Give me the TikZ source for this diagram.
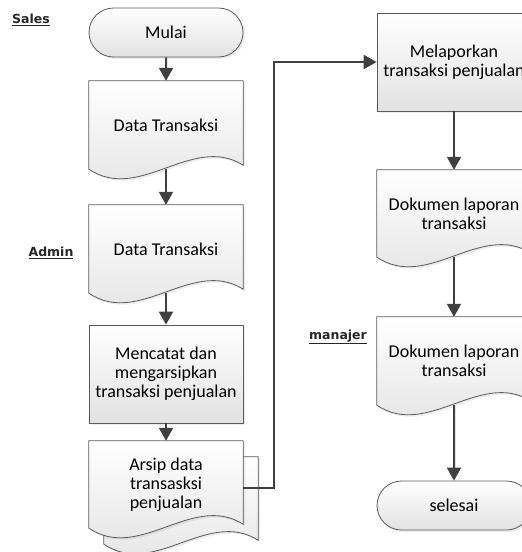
\documentclass[tikz,border=0pt]{standalone}
\usepackage{fontspec}
\setmainfont{Carlito}
\newfontfamily\lanefont{DejaVu Sans}
\usetikzlibrary{shapes.misc,arrows.meta,shadows,backgrounds}
\definecolor{linegray}{HTML}{5A5A5A}
\definecolor{flowgray}{HTML}{404040}
\definecolor{boxgray}{HTML}{E2E2E2}
\newcommand\docoutline[1]{%
  \path[docfill] (#1.south west) -- (#1.north west) -- (#1.north east)
    -- ([yshift=4pt]#1.south east) .. controls +(-51,-32) and +(51,34) .. (#1.south west) -- cycle;}

\begin{document}
\begin{tikzpicture}[x=1pt, y=-1pt,
  every node/.style={font=\fontsize{18}{19}\selectfont, align=center},
  shape base/.style={draw=linegray, line width=0.8pt, top color=white, bottom color=boxgray,
    drop shadow={opacity=0.15, shadow xshift=2pt, shadow yshift=-2pt}},
  terminal/.style={shape base, rounded rectangle, minimum width=154pt, minimum height=49pt, inner sep=0pt},
  process/.style={shape base, rectangle, minimum width=154pt, minimum height=98pt, inner sep=0pt},
  doc/.style={rectangle, minimum width=154pt, inner sep=0pt},
  docfill/.style={shape base},
  lane/.style={font=\lanefont\bfseries\fontsize{12.5}{14}\selectfont, text=black!85},
  flow/.style={draw=flowgray, line width=2pt, -{Triangle[length=13pt,width=14pt]}}]
  \useasboundingbox (0,0) rectangle (522,552);

  \node[lane] (sales) at (31,20) {\underline{Sales}};
  \node[lane] (admin) at (51,253) {\underline{Admin}};
  \node[lane] (manajer) at (338,337) {\underline{manajer}};

  \node[terminal] (mulai) at (166,32.5) {Mulai};
  \node[doc, minimum height=88pt] (data1) at (166,125) {Data Transaksi};
  \node[doc, minimum height=88pt] (data2) at (166,249) {Data Transaksi};
  \node[process] (catat) at (166,374) {Mencatat dan\\ mengarsipkan\\ transaksi penjualan};
  \node[doc, minimum height=87pt] (arsipb) at (181,500.5) {};
  \node[doc, minimum height=87pt] (arsip) at (166,484.5) {Arsip data\\ transasksi\\ penjualan};

  \node[process] (lapor) at (454,62) {Melaporkan\\ transaksi penjualan};
  \node[doc, minimum height=87pt] (lap1) at (454,213.5) {Dokumen laporan\\ transaksi};
  \node[doc, minimum height=88pt] (lap2) at (454,361) {Dokumen laporan\\ transaksi};
  \node[terminal] (selesai) at (454,505.5) {selesai};

  \begin{scope}[on background layer]
    \docoutline{data1}
    \docoutline{data2}
    \docoutline{arsipb}
    \docoutline{arsip}
    \docoutline{lap1}
    \docoutline{lap2}
  \end{scope}

  \draw[flow] (mulai) -- (data1);
  \draw[flow] (data1) -- (data2);
  \draw[flow] (data2) -- (catat);
  \draw[flow] (catat) -- (arsip);
  \draw[flow] ([yshift=-3pt]arsip.east) -- ++(31,0) |- (lapor.west);
  \draw[flow] (lapor) -- (lap1);
  \draw[flow] (lap1) -- (lap2);
  \draw[flow] (lap2) -- (selesai);
\end{tikzpicture}
\end{document}
